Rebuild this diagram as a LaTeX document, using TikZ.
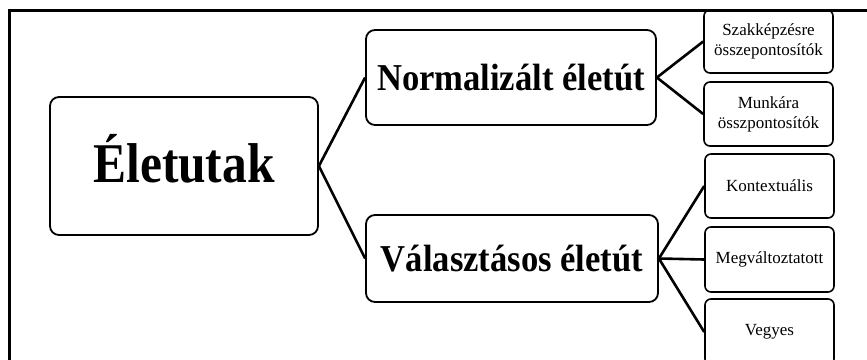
\documentclass[tikz,border=0pt]{standalone}
\usepackage{fontspec}
\setmainfont{Liberation Serif}
\newcommand{\sqz}[1]{\scalebox{0.91}[1]{#1}}
\begin{document}
\begin{tikzpicture}[x=1pt,y=-1pt,
  bigbox/.style={draw, line width=1.8pt, rounded corners=9pt, inner sep=0pt, align=center},
  smallbox/.style={draw, line width=1.6pt, rounded corners=6pt, inner sep=0pt, align=center,
    minimum width=129pt, font=\fontsize{17}{20}\selectfont},
  conn/.style={line width=2.6pt}]
\useasboundingbox (0,0) rectangle (867,359);
\draw[line width=3pt] (9,372) |- (870,10);
\node[bigbox, minimum width=268pt, minimum height=138pt, font=\fontsize{51}{54}\selectfont\bfseries] (root) at (184,166) {\raisebox{-16pt}[0pt][0pt]{\scalebox{0.97}[1.1]{Életutak}}};
\node[bigbox, minimum width=290pt, minimum height=95pt, font=\fontsize{38}{40}\selectfont\bfseries] (norm) at (511,77.5) {\sqz{Normalizált életút}};
\node[bigbox, minimum width=292pt, minimum height=87pt, font=\fontsize{38}{40}\selectfont\bfseries] (val) at (512,258.5) {\sqz{Választásos életút}};
\node[smallbox, minimum height=63pt] (szak) at (768.5,41.5) {Szakképzésre\\összepontosítók};
\node[smallbox, minimum height=64pt] (munka) at (768.5,114) {Munkára\\összpontosítók};
\node[smallbox, minimum height=64pt] (kont) at (769.5,186) {Kontextuális};
\node[smallbox, minimum height=65pt] (megv) at (769.5,259.5) {Megváltoztatott};
\node[smallbox, minimum height=66pt] (vegy) at (769.5,332) {Vegyes};
\draw[conn, line join=miter] (norm.west) -- (root.east) -- (val.west);
\draw[conn] (szak.west) -- (norm.east) -- (munka.west);
\draw[conn] (kont.west) -- (val.east) -- (vegy.west);
\draw[conn] (val.east) -- (megv.west);
\end{tikzpicture}
\end{document}
